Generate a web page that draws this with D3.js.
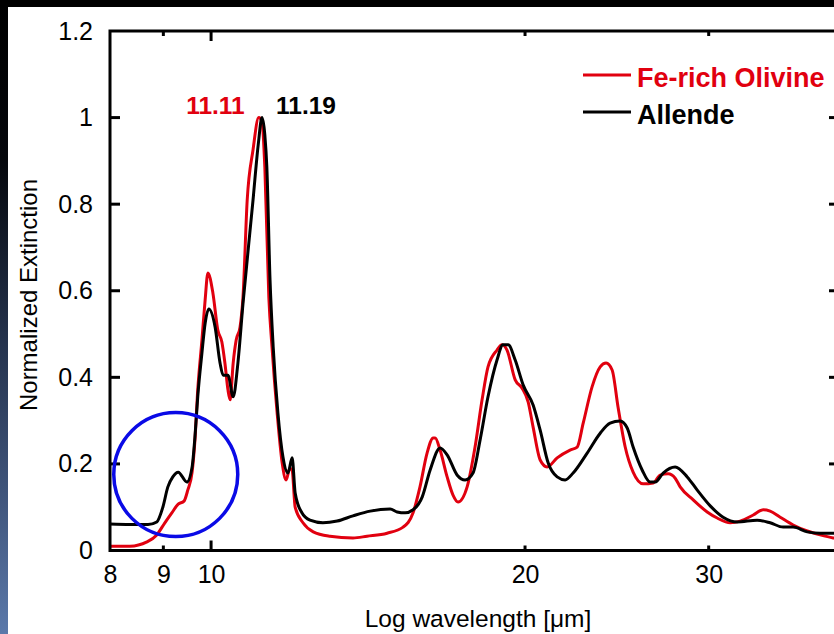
<!DOCTYPE html>
<html>
<head>
<meta charset="utf-8">
<script src="https://cdn.jsdelivr.net/npm/d3@7"></script>
<style>
  html, body { margin: 0; padding: 0; background: #ffffff; }
  svg { display: block; }
  text { font-family: "Liberation Sans", Arial, sans-serif; }
</style>
</head>
<body>
<svg id="chart" width="834" height="634"></svg>
<script>
// Fe-rich olivine laboratory spectrum (wavelength in µm, normalized extinction)
const olivineWavelength = [8.00, 8.36, 8.68, 8.87, 9.03, 9.17, 9.30, 9.42, 9.50, 9.59, 9.65, 9.71, 9.80, 9.87, 9.93,
  10.04, 10.15, 10.24, 10.31, 10.38, 10.43, 10.50, 10.57, 10.66, 10.73, 10.83, 10.97, 11.11, 11.19, 11.26, 11.36,
  11.44, 11.57, 11.70, 11.80, 11.90, 11.96, 12.04, 12.25, 12.53, 13.00, 13.68, 14.11, 14.75, 15.28, 15.62, 15.86,
  16.11, 16.33, 16.40, 16.58, 16.84, 17.06, 17.25, 17.60, 17.91, 18.19, 18.43, 18.80, 19.01, 19.22, 19.57, 19.87,
  20.14, 20.36, 20.68, 21.00, 21.47, 22.09, 22.44, 22.74, 23.19, 23.61, 23.92, 24.24, 24.56, 24.95, 25.39, 25.96,
  26.54, 26.95, 27.43, 27.86, 28.17, 28.99, 29.90, 30.57, 31.46, 32.16, 33.10, 33.84, 34.36, 35.13, 36.15, 37.29,
  38.37, 39.49, 40.0];
const olivineExtinction = [0.010, 0.010, 0.020, 0.036, 0.064, 0.087, 0.107, 0.114, 0.140, 0.181, 0.255, 0.371, 0.486, 0.579, 0.641,
  0.595, 0.509, 0.482, 0.433, 0.371, 0.348, 0.433, 0.486, 0.516, 0.585, 0.809, 0.925, 1.000, 0.990, 0.886, 0.585,
  0.470, 0.318, 0.202, 0.163, 0.190, 0.185, 0.100, 0.064, 0.043, 0.033, 0.029, 0.033, 0.040, 0.054, 0.087, 0.147,
  0.225, 0.260, 0.260, 0.232, 0.170, 0.128, 0.112, 0.147, 0.239, 0.348, 0.424, 0.463, 0.475, 0.463, 0.394, 0.375,
  0.343, 0.285, 0.209, 0.193, 0.214, 0.232, 0.239, 0.294, 0.378, 0.424, 0.433, 0.417, 0.331, 0.239, 0.181, 0.154,
  0.156, 0.174, 0.177, 0.167, 0.147, 0.117, 0.089, 0.075, 0.064, 0.068, 0.082, 0.094, 0.091, 0.077, 0.059, 0.045,
  0.036, 0.029, 0.027];

// Allende meteorite spectrum
const allendeWavelength = [8.00, 8.36, 8.70, 8.87, 8.99, 9.09, 9.19, 9.30, 9.48, 9.59, 9.65, 9.71, 9.80, 9.87, 9.95,
  10.09, 10.20, 10.27, 10.38, 10.50, 10.61, 10.73, 10.97, 11.10, 11.19, 11.26, 11.31, 11.39, 11.47, 11.59, 11.72,
  11.85, 11.96, 12.04, 12.22, 12.44, 12.80, 13.21, 13.68, 14.21, 14.85, 15.08, 15.35, 15.62, 15.94, 16.22, 16.58,
  16.84, 17.22, 17.52, 17.83, 18.11, 18.43, 18.80, 19.05, 19.27, 19.57, 19.92, 20.36, 20.68, 21.05, 21.47, 21.85,
  22.24, 22.94, 23.61, 24.13, 24.67, 25.06, 25.39, 25.90, 26.36, 26.66, 27.13, 27.86, 28.61, 29.24, 30.10, 30.97,
  31.95, 33.39, 34.36, 35.36, 36.15, 37.29, 38.37, 39.49, 40.0];
const allendeExtinction = [0.061, 0.060, 0.060, 0.066, 0.100, 0.147, 0.170, 0.181, 0.158, 0.193, 0.262, 0.355, 0.456, 0.525, 0.558,
  0.516, 0.433, 0.405, 0.405, 0.355, 0.433, 0.570, 0.809, 0.940, 1.000, 0.960, 0.886, 0.625, 0.470, 0.318, 0.216,
  0.179, 0.214, 0.133, 0.087, 0.070, 0.064, 0.068, 0.080, 0.091, 0.096, 0.089, 0.087, 0.094, 0.124, 0.186, 0.237,
  0.221, 0.174, 0.163, 0.179, 0.255, 0.355, 0.440, 0.475, 0.475, 0.440, 0.382, 0.336, 0.278, 0.202, 0.170, 0.163,
  0.179, 0.225, 0.271, 0.294, 0.299, 0.283, 0.239, 0.186, 0.158, 0.158, 0.179, 0.193, 0.170, 0.140, 0.103, 0.077,
  0.066, 0.070, 0.064, 0.054, 0.054, 0.043, 0.040, 0.040, 0.040];

const seriesNames = ["Fe-rich Olivine", "Allende"];
const seriesColors = ["#e1000f", "#000000"];

const xTickLabels = [8, 9, 10, 20, 30];
const xMajorTicks = [10];
const xMinorTicks = [9, 20, 30];
const yTickLabels = [0, 0.2, 0.4, 0.6, 0.8, 1, 1.2];
const yInnerTicks = [0.2, 0.4, 0.6, 0.8, 1];

const peakWavelengths = [11.11, 11.19];
const peakLabels = ["11.11", "11.19"];

// highlighted 9.3 µm feature
const featureWavelength = 9.25;
const featureExtinction = 0.1755;

const W = 834, H = 634;
const plot = { left: 110, right: 839, top: 31, bottom: 550.5 };

const svg = d3.select("#chart");

// frame: dark band on top, gradient strip on the left
const defs = svg.append("defs");
const grad = defs.append("linearGradient").attr("id", "edgeGrad")
  .attr("x1", 0).attr("y1", 0).attr("x2", 0).attr("y2", 1);
[[0, "#000000"], [0.25, "#05070c"], [0.55, "#26344f"], [0.8, "#42587f"], [1, "#5b79aa"]]
  .forEach(([o, c]) => grad.append("stop").attr("offset", o).attr("stop-color", c));
svg.append("rect").attr("x", 0).attr("y", 0).attr("width", W).attr("height", H).attr("fill", "#ffffff");
svg.append("rect").attr("x", 0).attr("y", 0).attr("width", 8).attr("height", H).attr("fill", "url(#edgeGrad)");
svg.append("rect").attr("x", 0).attr("y", 0).attr("width", W).attr("height", 7).attr("fill", "#000000");

const x = d3.scaleLog().domain([8, 40]).range([plot.left, plot.right]);
const y = d3.scaleLinear().domain([0, 1.2]).range([plot.bottom, plot.top]);

const clip = defs.append("clipPath").attr("id", "plotClip");
clip.append("rect").attr("x", plot.left).attr("y", plot.top)
  .attr("width", plot.right - plot.left).attr("height", plot.bottom - plot.top);

// curves
const series = [
  { name: seriesNames[0], color: seriesColors[0], data: olivineWavelength.map((w, i) => [w, olivineExtinction[i]]) },
  { name: seriesNames[1], color: seriesColors[1], data: allendeWavelength.map((w, i) => [w, allendeExtinction[i]]) }
];
const line = d3.line().x(d => x(d[0])).y(d => y(d[1])).curve(d3.curveMonotoneX);
svg.append("g").attr("clip-path", "url(#plotClip)")
  .selectAll("path").data(series).join("path")
  .attr("d", d => line(d.data))
  .attr("fill", "none")
  .attr("stroke", d => d.color)
  .attr("stroke-width", 3)
  .attr("stroke-linejoin", "round");

// ticks (inward) on all four sides
const tickG = svg.append("g").attr("stroke", "#000").attr("stroke-width", 3);
const xTicks = xMajorTicks.map(v => ({ v, len: 10 })).concat(xMinorTicks.map(v => ({ v, len: 5 })));
tickG.selectAll(".tb").data(xTicks).join("line")
  .attr("x1", d => x(d.v)).attr("x2", d => x(d.v))
  .attr("y1", plot.bottom).attr("y2", d => plot.bottom - d.len);
tickG.selectAll(".tt").data(xTicks).join("line")
  .attr("x1", d => x(d.v)).attr("x2", d => x(d.v))
  .attr("y1", plot.top).attr("y2", d => plot.top + d.len);
tickG.selectAll(".tl").data(yInnerTicks).join("line")
  .attr("x1", plot.left).attr("x2", plot.left + 10)
  .attr("y1", d => y(d)).attr("y2", d => y(d));
tickG.selectAll(".tr").data(yInnerTicks).join("line")
  .attr("x1", plot.right).attr("x2", plot.right - 10)
  .attr("y1", d => y(d)).attr("y2", d => y(d));

// frame
svg.append("rect")
  .attr("x", plot.left).attr("y", plot.top)
  .attr("width", plot.right - plot.left).attr("height", plot.bottom - plot.top)
  .attr("fill", "none").attr("stroke", "#000").attr("stroke-width", 3);

// tick labels
const xAxis = d3.axisBottom(x).tickValues(xTickLabels).tickFormat(d3.format("d")).tickSize(0).tickPadding(15);
const gx = svg.append("g").attr("transform", `translate(0,${plot.bottom})`).call(xAxis);
gx.select(".domain").remove();
gx.selectAll("text").attr("font-size", 25).attr("fill", "#000")
  .style("font-family", '"Liberation Sans", Arial, sans-serif');

const yAxis = d3.axisLeft(y).tickValues(yTickLabels).tickFormat(d3.format("~g")).tickSize(0).tickPadding(17);
const gy = svg.append("g").attr("transform", `translate(${plot.left},0)`).call(yAxis);
gy.select(".domain").remove();
gy.selectAll("text").attr("font-size", 25).attr("fill", "#000")
  .style("font-family", '"Liberation Sans", Arial, sans-serif');

// axis titles
svg.append("text")
  .attr("x", 478).attr("y", 627)
  .attr("text-anchor", "middle").attr("font-size", 24.5).attr("fill", "#000")
  .text("Log wavelength [μm]");
svg.append("text")
  .attr("transform", "translate(37,295) rotate(-90)")
  .attr("text-anchor", "middle").attr("font-size", 24).attr("fill", "#000")
  .text("Normalized Extinction");

// peak position labels
svg.append("text")
  .attr("x", x(peakWavelengths[0]) - 14).attr("y", y(1) - 4)
  .attr("text-anchor", "end").attr("font-size", 24.5).attr("font-weight", "bold")
  .attr("fill", seriesColors[0]).text(peakLabels[0]);
svg.append("text")
  .attr("x", x(peakWavelengths[1]) + 14).attr("y", y(1) - 4)
  .attr("text-anchor", "start").attr("font-size", 24.5).attr("font-weight", "bold")
  .attr("fill", seriesColors[1]).text(peakLabels[1]);

// legend
const legend = svg.append("g").attr("transform", "translate(583,75)");
const items = legend.selectAll("g").data(series).join("g")
  .attr("transform", (d, i) => `translate(0,${i * 37})`);
items.append("line").attr("x1", 0).attr("x2", 48).attr("y1", 0).attr("y2", 0)
  .attr("stroke", d => d.color).attr("stroke-width", 3);
items.append("text").attr("x", 54).attr("y", 12)
  .attr("font-size", 27).attr("font-weight", "bold")
  .attr("fill", d => d.color).text(d => d.name);

// highlight circle around the 9.3 µm feature
svg.append("circle")
  .attr("cx", x(featureWavelength)).attr("cy", y(featureExtinction)).attr("r", 62)
  .attr("fill", "none").attr("stroke", "#0a0ae6").attr("stroke-width", 3.5);
</script>
</body>
</html>
